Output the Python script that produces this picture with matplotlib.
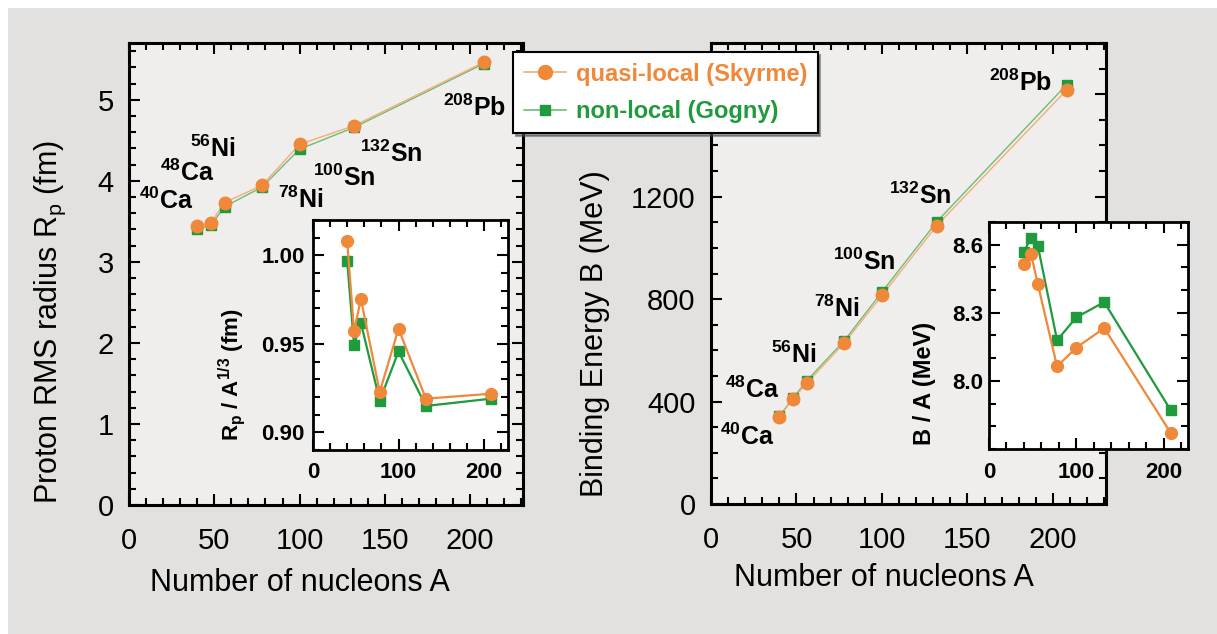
import matplotlib
matplotlib.use("Agg")
import matplotlib.pyplot as plt
from matplotlib.patches import Rectangle
from matplotlib.ticker import MultipleLocator, FixedLocator, FormatStrFormatter, FuncFormatter
from matplotlib.lines import Line2D

plt.rcParams['font.family'] = ['Liberation Sans', 'DejaVu Sans']
plt.rcParams['mathtext.fontset'] = 'custom'
plt.rcParams['mathtext.rm'] = 'Liberation Sans'
plt.rcParams['mathtext.it'] = 'Liberation Sans:italic'
plt.rcParams['mathtext.bf'] = 'Liberation Sans:bold'

# ---------------- data ----------------
A = [40, 48, 56, 78, 100, 132, 208]
rp_skyrme = [3.447, 3.478, 3.732, 3.943, 4.449, 4.680, 5.462]
rp_gogny = [3.409, 3.450, 3.680, 3.922, 4.390, 4.659, 5.445]
rpA_skyrme = [1.008, 0.957, 0.9754, 0.9228, 0.9585, 0.919, 0.9218]
rpA_gogny = [0.9968, 0.9494, 0.9618, 0.9179, 0.9457, 0.9149, 0.919]
B_skyrme = [340.7, 410.9, 471.8, 629.0, 814.6, 1086.8, 1616.6]
B_gogny = [342.7, 414.3, 481.3, 638.0, 828.0, 1101.8, 1637.4]
BA_skyrme = [8.517, 8.561, 8.425, 8.064, 8.146, 8.233, 7.772]
BA_gogny = [8.568, 8.631, 8.594, 8.179, 8.280, 8.347, 7.872]

nuclei = [r'$\mathbf{^{40}Ca}$', r'$\mathbf{^{48}Ca}$', r'$\mathbf{^{56}Ni}$',
          r'$\mathbf{^{78}Ni}$', r'$\mathbf{^{100}Sn}$', r'$\mathbf{^{132}Sn}$',
          r'$\mathbf{^{208}Pb}$']
left_label_x = [22.0, 34.0, 49.3, 100.5, 126.0, 154.0, 202.3]
left_label_y = [3.75, 4.10, 4.40, 3.77, 4.04, 4.33, 4.90]
right_label_x = [21.3, 24.3, 48.5, 73.4, 89.8, 122.2, 181.3]
right_label_y = [262, 444, 581, 764, 945, 1205, 1646]

label_skyrme = 'quasi-local (Skyrme)'
label_gogny = 'non-local (Gogny)'

# ---------------- style ----------------
ORANGE = '#f0883a'
GREEN = '#1f9a3c'
ORANGE_L = '#f5ad78'
GREEN_L = '#6dbd74'
W, H = 1217, 634

fig = plt.figure(figsize=(W / 100, H / 100), dpi=100, facecolor='white')
fig.patches.append(Rectangle((8 / W, 0), 1 - 8 / W, 1 - 8 / H, transform=fig.transFigure,
                             facecolor='#e2e1df', edgecolor='none', zorder=-10))


def rect(x0, y0, x1, y1):
    return [x0 / W, 1 - y1 / H, (x1 - x0) / W, (y1 - y0) / H]


def style(ax, labelsize, bold, xpad, ypad, spw):
    ax.tick_params(which='both', direction='in', top=True, right=True, width=1.5)
    ax.tick_params(which='major', length=8)
    ax.tick_params(which='minor', length=5)
    ax.tick_params(axis='x', labelsize=labelsize, pad=xpad)
    ax.tick_params(axis='y', labelsize=labelsize, pad=ypad)
    for s in ax.spines.values():
        s.set_linewidth(spw)
    if bold:
        for lab in ax.get_xticklabels() + ax.get_yticklabels():
            lab.set_fontweight('bold')


# ---------------- left main ----------------
ax1 = fig.add_axes(rect(129, 43, 523, 505))
ax1.set_facecolor('#efeeec')
ax1.plot(A, rp_gogny, '-', color=GREEN_L, lw=1.0, zorder=2)
ax1.plot(A, rp_skyrme, '-', color=ORANGE_L, lw=1.0, zorder=2)
ax1.plot(A, rp_gogny, 's', color=GREEN, ms=7, zorder=3)
ax1.plot(A, rp_skyrme, 'o', color=ORANGE, ms=9, zorder=4)
ax1.set_xlim(0, 231)
ax1.set_ylim(0, 5.7)
ax1.xaxis.set_major_locator(MultipleLocator(50))
ax1.xaxis.set_minor_locator(MultipleLocator(10))
ax1.yaxis.set_major_locator(MultipleLocator(1))
ax1.yaxis.set_minor_locator(MultipleLocator(0.2))
style(ax1, 21, False, 16, 11, 2.2)
for t, x, y in zip(nuclei, left_label_x, left_label_y):
    ax1.text(x, y, t, fontsize=18, ha='center', va='center', zorder=5)

# ---------------- right main ----------------
ax2 = fig.add_axes(rect(711, 43, 1106, 504))
ax2.set_facecolor('#efeeec')
ax2.plot(A, B_gogny, '-', color=GREEN_L, lw=1.0, zorder=2)
ax2.plot(A, B_skyrme, '-', color=ORANGE_L, lw=1.0, zorder=2)
ax2.plot(A, B_gogny, 's', color=GREEN, ms=7, zorder=3)
ax2.plot(A, B_skyrme, 'o', color=ORANGE, ms=9, zorder=4)
ax2.set_xlim(0, 231)
ax2.set_ylim(0, 1800)
ax2.xaxis.set_major_locator(MultipleLocator(50))
ax2.xaxis.set_minor_locator(MultipleLocator(10))
ax2.yaxis.set_major_locator(FixedLocator([0, 400, 800, 1200, 1600]))
ax2.yaxis.set_major_formatter(FuncFormatter(lambda v, p: '' if v > 1500 else f'{v:.0f}'))
ax2.yaxis.set_minor_locator(MultipleLocator(100))
style(ax2, 21, False, 16, 11, 2.2)
for t, x, y in zip(nuclei, right_label_x, right_label_y):
    ax2.text(x, y, t, fontsize=18, ha='center', va='center', zorder=5)

# ---------------- left inset ----------------
ax3 = fig.add_axes(rect(313, 220, 508, 450), zorder=3)
ax3.set_facecolor('white')
ax3.plot(A, rpA_gogny, '-s', color=GREEN, lw=1.6, ms=7.5)
ax3.plot(A, rpA_skyrme, '-o', color=ORANGE, lw=1.6, ms=8.5)
ax3.set_xlim(0, 228)
ax3.set_ylim(0.89, 1.02)
ax3.xaxis.set_major_locator(MultipleLocator(100))
ax3.xaxis.set_minor_locator(MultipleLocator(20))
ax3.yaxis.set_major_locator(MultipleLocator(0.05))
ax3.yaxis.set_minor_locator(MultipleLocator(0.01))
ax3.yaxis.set_major_formatter(FormatStrFormatter('%.2f'))
style(ax3, 16, True, 9, 6, 2.0)

# ---------------- right inset ----------------
ax4 = fig.add_axes(rect(989, 222, 1188, 449), zorder=3)
ax4.set_facecolor('white')
ax4.plot(A, BA_gogny, '-s', color=GREEN, lw=1.6, ms=7.5)
ax4.plot(A, BA_skyrme, '-o', color=ORANGE, lw=1.6, ms=8.5)
ax4.set_xlim(0, 228)
ax4.set_ylim(7.7, 8.7)
ax4.xaxis.set_major_locator(MultipleLocator(100))
ax4.xaxis.set_minor_locator(MultipleLocator(20))
ax4.yaxis.set_major_locator(FixedLocator([8.0, 8.3, 8.6]))
ax4.yaxis.set_minor_locator(MultipleLocator(0.1))
ax4.yaxis.set_major_formatter(FormatStrFormatter('%.1f'))
style(ax4, 16, True, 9, 4, 2.0)

# ---------------- axis labels ----------------
fig.text(300 / W, 1 - 583 / H, 'Number of nucleons A', fontsize=22, ha='center', va='center')
fig.text(883.5 / W, 1 - 578 / H, 'Number of nucleons A', fontsize=22, ha='center', va='center')
fig.text(50 / W, 1 - 322 / H, r'Proton RMS radius R$_\mathrm{p}$ (fm)', fontsize=22,
         ha='center', va='center', rotation=90)
fig.text(595 / W, 1 - 334 / H, 'Binding Energy B (MeV)', fontsize=22,
         ha='center', va='center', rotation=90)
fig.text(232 / W, 1 - 375 / H, r'$\mathbf{R_p\ /\ A^{1/3}\ (fm)}$', fontsize=16,
         ha='center', va='center', rotation=90)
fig.text(924 / W, 1 - 383 / H, 'B / A (MeV)', fontsize=17, fontweight='bold',
         ha='center', va='center', rotation=90)

# ---------------- legend ----------------
h1 = Line2D([], [], color=ORANGE_L, lw=1.2, marker='o', ms=10,
            markerfacecolor=ORANGE, markeredgecolor=ORANGE)
h2 = Line2D([], [], color=GREEN_L, lw=1.2, marker='s', ms=7.5,
            markerfacecolor=GREEN, markeredgecolor=GREEN)
leg = fig.legend([h1, h2], [label_skyrme, label_gogny], loc='upper left',
                 bbox_to_anchor=(513 / W, 1 - 52 / H), borderaxespad=0,
                 frameon=True, fancybox=False, shadow=True,
                 handlelength=1.8, handletextpad=0.4, labelspacing=0.6,
                 borderpad=0.45, prop={'weight': 'bold', 'size': 17})
leg.get_frame().set_edgecolor('black')
leg.get_frame().set_linewidth(1.5)
leg.get_frame().set_facecolor('white')
leg.get_frame().set_alpha(1)
leg.get_texts()[0].set_color(ORANGE)
leg.get_texts()[1].set_color(GREEN)
leg.set_zorder(20)

fig.savefig('out.png', dpi=100, facecolor=fig.get_facecolor())
